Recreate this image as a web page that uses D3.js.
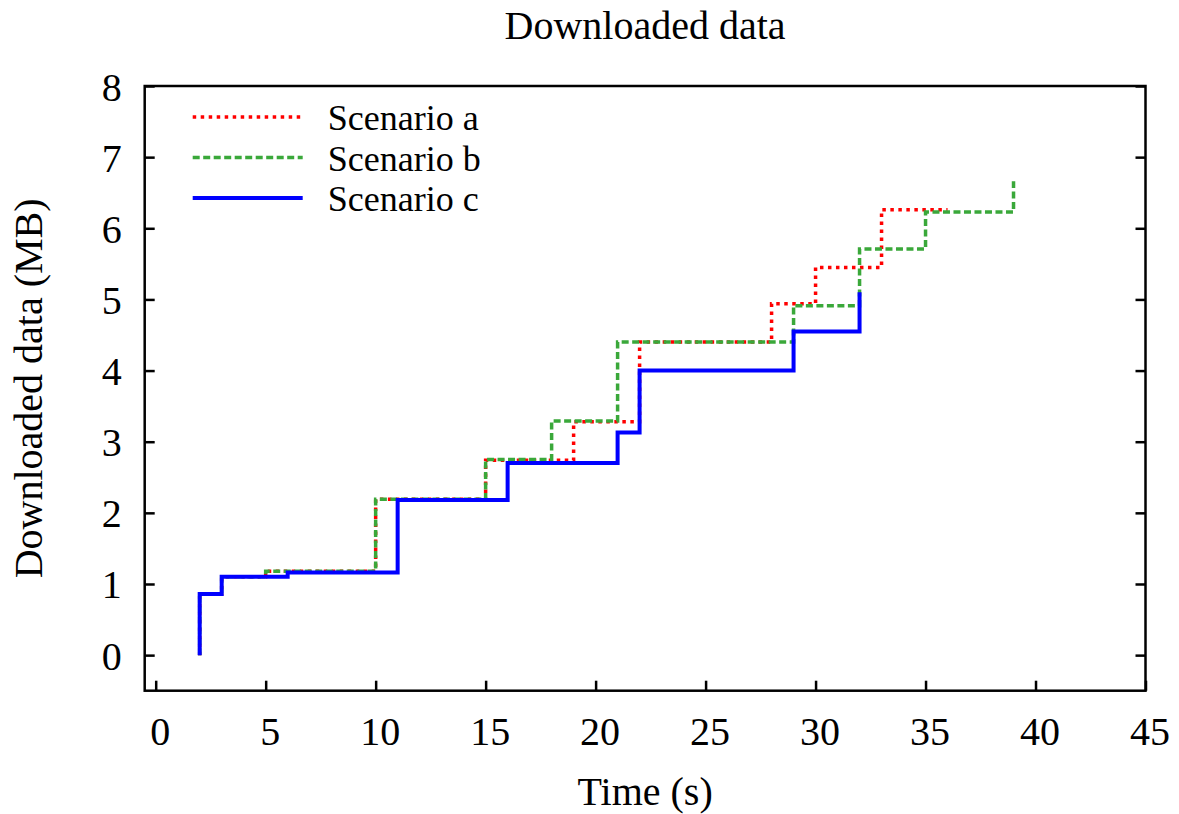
<!DOCTYPE html>
<meta charset="utf-8">
<head>
<style>
  body { margin: 0; background: #fff; }
  text { font-family: "Liberation Serif", "Times New Roman", serif; fill: #000; }
  .axis text { font-size: 40px; }
  .axis line { stroke: #000; stroke-width: 2.5; }
  .axis path { display: none; }
</style>
</head>
<body>
<script src="https://d3js.org/d3.v7.min.js"></script>
<script>
// Series: time (s) and cumulative downloaded data (MB) at each step
var timesA  = [2, 2, 3, 5, 10, 15, 19, 22, 28, 30, 33, 36];
var valuesA = [0, 0.86, 1.10, 1.18, 2.19, 2.74, 3.28, 4.40, 4.94, 5.45, 6.26, 6.26];

var timesB  = [2, 2, 3, 5, 10, 15, 18, 21, 29, 32, 35, 39];
var valuesB = [0, 0.86, 1.10, 1.18, 2.19, 2.75, 3.29, 4.40, 4.91, 5.71, 6.23, 6.66];

var timesC  = [2, 2, 3, 6, 11, 16, 21, 22, 29, 32];
var valuesC = [0, 0.86, 1.10, 1.16, 2.18, 2.70, 3.13, 4.00, 4.55, 5.10];

var seriesNames = ["Scenario a", "Scenario b", "Scenario c"];
var xTicks = [0, 5, 10, 15, 20, 25, 30, 35, 40, 45];
var yTicks = [0, 1, 2, 3, 4, 5, 6, 7, 8];

//Set size parameters
var margin = { top: 86, right: 33.5, bottom: 123.3, left: 144.7 },
    width = 1179 - margin.left - margin.right,
    height = 814 - margin.top - margin.bottom;

var svg = d3.select("body").append("svg")
    .attr("width", 1179)
    .attr("height", 814);

var g = svg.append("g")
    .attr("transform", "translate(" + margin.left + "," + margin.top + ")");

var x = d3.scaleLinear().domain([-0.5, 45]).range([0, width]);
var y = d3.scaleLinear().domain([-0.5, 8]).range([height, 0]);

//Axes with inward ticks
var xAxis = d3.axisBottom(x).tickValues(xTicks).tickSize(-10).tickSizeOuter(0);
var yAxis = d3.axisLeft(y).tickValues(yTicks).tickSize(-10).tickSizeOuter(0).tickPadding(23);
var yAxisRight = d3.axisRight(y).tickValues(yTicks).tickSize(-10).tickSizeOuter(0).tickFormat("");

g.append("g")
    .attr("class", "x axis")
    .attr("transform", "translate(0," + height + ")")
    .call(xAxis)
    .selectAll("text")
    .attr("y", 54)
    .attr("dy", 0)
    .attr("dx", 4);

g.append("g")
    .attr("class", "y axis")
    .call(yAxis)
    .selectAll("text")
    .attr("dy", 14);

g.append("g")
    .attr("class", "y axis")
    .attr("transform", "translate(" + width + ",0)")
    .call(yAxisRight);

//Frame
g.append("rect")
    .attr("width", width)
    .attr("height", height)
    .attr("fill", "none")
    .attr("stroke", "#000")
    .attr("stroke-width", 2.5);

//Lines
var styles = [
    { color: "#ff0000", width: 3.5, dash: "3.5,4.5" },
    { color: "#3aa83a", width: 3.5, dash: "7,3.5" },
    { color: "#0000ff", width: 4,   dash: null }
];
var series = [
    d3.zip(timesA, valuesA),
    d3.zip(timesB, valuesB),
    d3.zip(timesC, valuesC)
];

var line = d3.line()
    .curve(d3.curveStepAfter)
    .x(function(d) { return x(d[0]); })
    .y(function(d) { return y(d[1]); });

series.forEach(function(s, i) {
    g.append("path")
        .datum(s)
        .attr("fill", "none")
        .attr("stroke", styles[i].color)
        .attr("stroke-width", styles[i].width)
        .attr("stroke-dasharray", styles[i].dash)
        .attr("d", line);
});

//Legend
var legend = g.append("g").attr("transform", "translate(48,31)");
seriesNames.forEach(function(name, i) {
    legend.append("line")
        .attr("x1", 0).attr("x2", 110)
        .attr("y1", i * 40.5).attr("y2", i * 40.5)
        .attr("stroke", styles[i].color)
        .attr("stroke-width", styles[i].width)
        .attr("stroke-dasharray", styles[i].dash);
    legend.append("text")
        .attr("x", 135)
        .attr("y", i * 40.5 + 13)
        .style("font-size", "36px")
        .text(name);
});

//Title and axis labels
svg.append("text")
    .attr("x", margin.left + width / 2)
    .attr("y", 39)
    .style("text-anchor", "middle")
    .style("font-size", "40px")
    .text("Downloaded data");

svg.append("text")
    .attr("x", margin.left + width / 2)
    .attr("y", 805)
    .style("text-anchor", "middle")
    .style("font-size", "40px")
    .text("Time (s)");

svg.append("text")
    .attr("transform", "translate(42," + (margin.top + height / 2) + ") rotate(-90)")
    .style("text-anchor", "middle")
    .style("font-size", "40px")
    .text("Downloaded data (MB)");
</script>
</body>
